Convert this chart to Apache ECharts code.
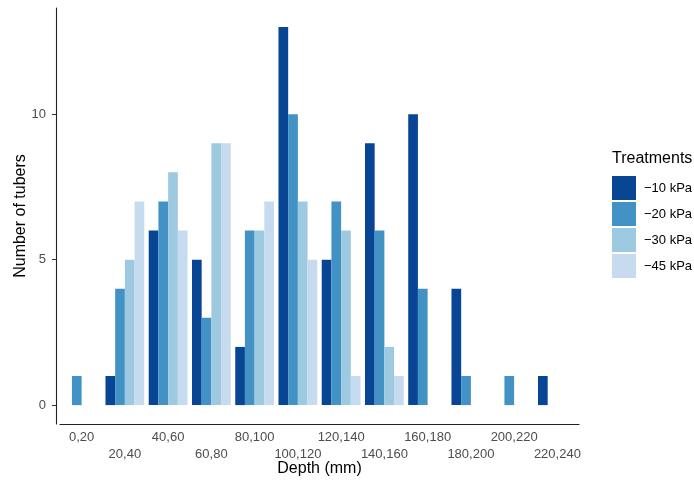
<!DOCTYPE html>
<html>
<head>
<meta charset="utf-8">
<script src="https://cdn.jsdelivr.net/npm/echarts@6/dist/echarts.min.js"></script>
<style>
  html, body { margin: 0; padding: 0; background: #fff; }
  #chart { width: 694px; height: 483px; }
</style>
</head>
<body>
<div id="chart"></div>
<script>
// depth classes (mm)
const depths = ['0,20', '20,40', '40,60', '60,80', '80,100', '100,120',
  '120,140', '140,160', '160,180', '180,200', '200,220', '220,240'];

// number of tubers per treatment
const kpa10 = [0, 1, 6, 5, 2, 13, 5, 9, 10, 4, 0, 1];
const kpa20 = [1, 4, 7, 3, 6, 10, 7, 6, 4, 1, 1, 0];
const kpa30 = [0, 5, 8, 9, 6, 7, 6, 2, 0, 0, 0, 0];
const kpa45 = [0, 7, 6, 9, 7, 5, 1, 1, 0, 0, 0, 0];

const treatments = ['\u221210 kPa', '\u221220 kPa', '\u221230 kPa', '\u221245 kPa'];
const yTicks = [0, 5, 10];

const colors = ['#084594', '#4292c6', '#9ecae1', '#c6dbef'];
const font = 'Liberation Sans, Arial, sans-serif';

const chart = echarts.init(document.getElementById('chart'));

const series = [kpa10, kpa20, kpa30, kpa45].map(function (vals, i) {
  return {
    name: treatments[i],
    type: 'bar',
    data: vals,
    barWidth: 9.7,
    barGap: '0%',
    itemStyle: { color: colors[i] },
    emphasis: { disabled: true }
  };
});

chart.setOption({
  animation: false,
  color: colors,
  textStyle: { fontFamily: font },
  title: {
    text: 'Treatments',
    left: 612,
    top: 151,
    padding: 0,
    textStyle: { fontFamily: font, fontSize: 16, fontWeight: 'normal', color: '#000' }
  },
  legend: {
    orient: 'vertical',
    left: 612,
    top: 176,
    padding: 0,
    itemWidth: 24,
    itemHeight: 24,
    itemGap: 2,
    icon: 'rect',
    selectedMode: false,
    textStyle: { fontFamily: font, fontSize: 13, color: '#000', padding: [0, 0, 0, 3] },
    data: treatments
  },
  grid: { left: 60, right: 115, top: 8, bottom: 59, outerBoundsMode: 'none' },
  xAxis: {
    type: 'category',
    data: depths,
    name: 'Depth (mm)',
    nameLocation: 'middle',
    nameGap: 37,
    nameMoveOverlap: false,
    nameTextStyle: { fontFamily: font, fontSize: 16, color: '#000' },
    axisLine: { onZero: false, lineStyle: { color: '#222', width: 1.1 } },
    axisTick: { alignWithLabel: true, length: 4, lineStyle: { color: '#333' } },
    axisLabel: {
      interval: 0,
      margin: 5,
      color: '#4d4d4d',
      fontFamily: font,
      fontSize: 13,
      lineHeight: 17,
      formatter: function (v, i) { return i % 2 ? '\n' + v : v; }
    },
    splitLine: { show: false }
  },
  yAxis: {
    type: 'value',
    min: -0.65,
    max: 13.65,
    offset: 4,
    name: 'Number of tubers',
    nameLocation: 'middle',
    nameGap: 27,
    nameMoveOverlap: false,
    nameTextStyle: { fontFamily: font, fontSize: 16, color: '#000' },
    axisLine: { show: true, lineStyle: { color: '#222', width: 1.1 } },
    axisTick: { show: true, length: 4, customValues: yTicks, lineStyle: { color: '#333' } },
    axisLabel: { customValues: yTicks, margin: 10, color: '#4d4d4d', fontFamily: font, fontSize: 13 },
    splitLine: { show: false }
  },
  series: series
});
</script>
</body>
</html>
